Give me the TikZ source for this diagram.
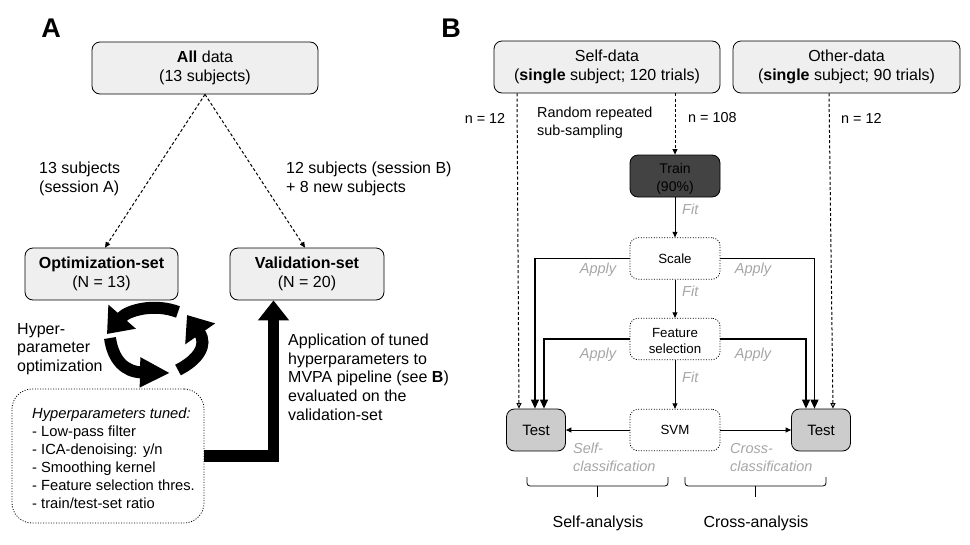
\documentclass[tikz,border=0pt]{standalone}
\usepackage{fontspec}
\setmainfont{Liberation Sans}
\usetikzlibrary{arrows.meta}
\definecolor{boxgray}{HTML}{EFEFEF}
\definecolor{testgray}{HTML}{CCCCCC}
\definecolor{traingray}{HTML}{434343}
\definecolor{notegray}{HTML}{A6A6A6}
\begin{document}
\begin{tikzpicture}
	    [x=1pt, y=-1pt,
	    setbox/.style={rectangle, rounded corners=8pt, draw, line width=0.8pt, fill=boxgray, align=center, inner sep=0pt, font=\fontsize{16}{18.5}\selectfont},
	    stepbox/.style={rectangle, rounded corners=8pt, draw, line width=0.8pt, dash pattern=on 1pt off 1.6pt, fill=white, align=center, inner sep=0pt, minimum width=90pt, minimum height=41.5pt, font=\fontsize{13.3}{16}\selectfont},
	    testbox/.style={rectangle, rounded corners=8pt, draw, line width=0.8pt, fill=testgray, inner sep=0pt, minimum width=59pt, minimum height=42pt, font=\fontsize{15}{16}\selectfont},
	    label/.style={anchor=west, align=left, inner sep=0pt, font=\fontsize{16}{18.7}\selectfont},
	    sublabel/.style={anchor=west, align=left, inner sep=0pt, font=\fontsize{14.4}{18}\selectfont},
	    note/.style={anchor=west, align=left, inner sep=0pt, text=notegray, font=\fontsize{14.5}{17.5}\selectfont\itshape},
	    flow/.style={-{Triangle[width=5pt,length=5.5pt]}, line width=0.9pt},
	    apply/.style={-{Triangle[width=8pt,length=9pt]}, line width=1.1pt},
	    sample/.style={-{Triangle[width=5pt,length=5.5pt]}, line width=1pt, dash pattern=on 3pt off 2.2pt},
	    testsample/.style={-{Triangle[open,width=5pt,length=5.5pt]}, line width=1pt, dash pattern=on 3pt off 2.2pt},
	    cycle/.style={line width=12pt},
	    group/.style={rounded corners=3pt, line width=0.8pt}]
	    \useasboundingbox (0,0) rectangle (970,544);
	    % panel A
	    \node[font=\fontsize{27}{27}\selectfont\bfseries] (panelA) at (51,28) {A};
	    \node[setbox, minimum width=226pt, minimum height=52pt] (all) at (205,68) {\textbf{All} data\\(13 subjects)};
	    \node[setbox, minimum width=153pt, minimum height=52pt] (optim) at (101.5,274) {\textbf{Optimization-set}\\(N = 13)};
	    \node[setbox, minimum width=154pt, minimum height=52pt] (valid) at (307,274) {\textbf{Validation-set}\\(N = 20)};
	    \node[rectangle, rounded corners=20pt, draw, line width=0.8pt, dash pattern=on 1pt off 1.6pt, minimum width=192pt, minimum height=134pt] (tuned) at (108,456) {};
	    \node[anchor=west, align=left, inner sep=0pt, font=\fontsize{14.7}{17.9}\selectfont] (tunedtext) at (32,458) {\textit{Hyperparameters tuned:}\\- Low-pass filter\\- ICA-denoising: y/n\\- Smoothing kernel\\- Feature selection thres.\\- train/test-set ratio};
	    \node[label] (subA) at (39,179) {13 subjects\\(session A)};
	    \node[label] (subB) at (286,179) {12 subjects (session B)\\+ 8 new subjects};
	    \node[label] (hyper) at (17,349) {Hyper-\\parameter\\optimization};
	    \node[label] (tuning) at (288,377) {Application of tuned\\hyperparameters to\\MVPA pipeline (see \textbf{B})\\evaluated on the\\validation-set};
	    \draw[sample] (all.south) -- ([xshift=3.5pt]optim.north);
	    \draw[sample] (all.south) -- ([xshift=-2pt]valid.north);
	    % hyperparameter loop
	    \coordinate (loopA) at (178,312);
	    \coordinate (loopB) at (107,334);
	    \coordinate (loopC) at (110,338);
	    \coordinate (loopD) at (170,373);
	    \coordinate (loopE) at (178,370);
	    \coordinate (loopF) at (187,315);
	    \draw[cycle, -{Triangle[width=35pt,length=23pt]}] (loopA) .. controls (155,303) and (128,310) .. (loopB);
	    \draw[cycle, -{Triangle[width=28pt,length=30pt]}] (loopC) .. controls (113,360) and (125,372) .. (loopD);
	    \draw[cycle, -{Triangle[width=35pt,length=23pt]}] (loopE) .. controls (198,360) and (208,345) .. (loopF);
	    \draw[line width=11.5pt, -{Triangle[width=30pt,length=20pt]}] (tuned.east) -| ([xshift=-33.5pt]valid.south);
	    % panel B
	    \node[font=\fontsize{27}{27}\selectfont\bfseries] (panelB) at (451,28) {B};
	    \node[setbox, minimum width=226pt, minimum height=52pt] (self) at (607,67) {Self-data\\(\textbf{single} subject; 120 trials)};
	    \node[setbox, minimum width=227pt, minimum height=52pt] (other) at (846.5,67) {Other-data\\(\textbf{single} subject; 90 trials)};
	    \node[rectangle, rounded corners=8pt, draw, line width=0.8pt, fill=traingray, align=center, inner sep=0pt, minimum width=90pt, minimum height=42pt, font=\fontsize{14}{18.5}\selectfont] (train) at (675,176) {\rule{0pt}{16pt}Train\\(90\%)};
	    \node[stepbox] (scale) at (675,258.5) {Scale};
	    \node[stepbox] (feature) at (675,339) {\rule{0pt}{13pt}Feature\\selection};
	    \node[stepbox] (svm) at (675,430) {SVM};
	    \node[testbox] (testL) at (536,430) {Test};
	    \node[testbox] (testR) at (821,430) {Test};
	    \draw[testsample] ([xshift=-90pt]self.south) -- ([xshift=-17pt]testL.north);
	    \draw[sample] ([xshift=68pt]self.south) -- (train.north);
	    \draw[testsample] ([xshift=-17.5pt]other.south) -- ([xshift=12pt]testR.north);
	    \draw[flow] (train) -- (scale);
	    \draw[flow] (scale) -- (feature);
	    \draw[flow] (feature) -- (svm);
	    \draw[flow] (svm) -- (testL);
	    \draw[flow] (svm) -- (testR);
	    \draw[apply] (scale.west) -| ([xshift=-1pt]testL.north);
	    \draw[apply] (feature.west) -| ([xshift=8pt]testL.north);
	    \draw[apply] (scale.east) -| ([xshift=-6.5pt]testR.north);
	    \draw[apply] (feature.east) -| ([xshift=-15pt]testR.north);
	    \node[sublabel, anchor=center] (nA) at (485,118) {n = 12};
	    \node[sublabel] (random) at (537,122.5) {Random repeated\\sub-sampling};
	    \node[sublabel] (nB) at (688,118) {n = 108};
	    \node[sublabel] (nC) at (841,118) {n = 12};
	    \node[note] (fitA) at (682,209) {Fit};
	    \node[note] (fitB) at (682,291) {Fit};
	    \node[note] (fitC) at (682,377) {Fit};
	    \node[note, anchor=center] (applyA) at (598,270) {Apply};
	    \node[note, anchor=center] (applyB) at (753,270) {Apply};
	    \node[note, anchor=center] (applyC) at (598,355) {Apply};
	    \node[note, anchor=center] (applyD) at (753,355) {Apply};
	    \node[note] (selfclass) at (573,457.5) {Self-\\classification};
	    \node[note] (crossclass) at (730,457.5) {Cross-\\classification};
	    % braces over the two analyses
	    \coordinate (braceA) at (527,477);
	    \coordinate (braceB) at (668,477);
	    \coordinate (braceC) at (685,477);
	    \coordinate (braceD) at (826,477);
	    \coordinate (tipA) at (597.5,496.5);
	    \coordinate (tipB) at (755.5,496.5);
	    \draw[group] (braceA) -- (527,486) -- (668,486) -- (braceB);
	    \draw[group] (braceC) -- (685,486) -- (826,486) -- (braceD);
	    \draw[line width=0.8pt] (tipA) -- (597.5,486);
	    \draw[line width=0.8pt] (tipB) -- (755.5,486);
	    \node[font=\fontsize{16}{18}\selectfont, inner sep=0pt] (selfan) at (598,523) {Self-analysis};
	    \node[font=\fontsize{16}{18}\selectfont, inner sep=0pt] (crossan) at (756,523) {Cross-analysis};
\end{tikzpicture}
\end{document}
